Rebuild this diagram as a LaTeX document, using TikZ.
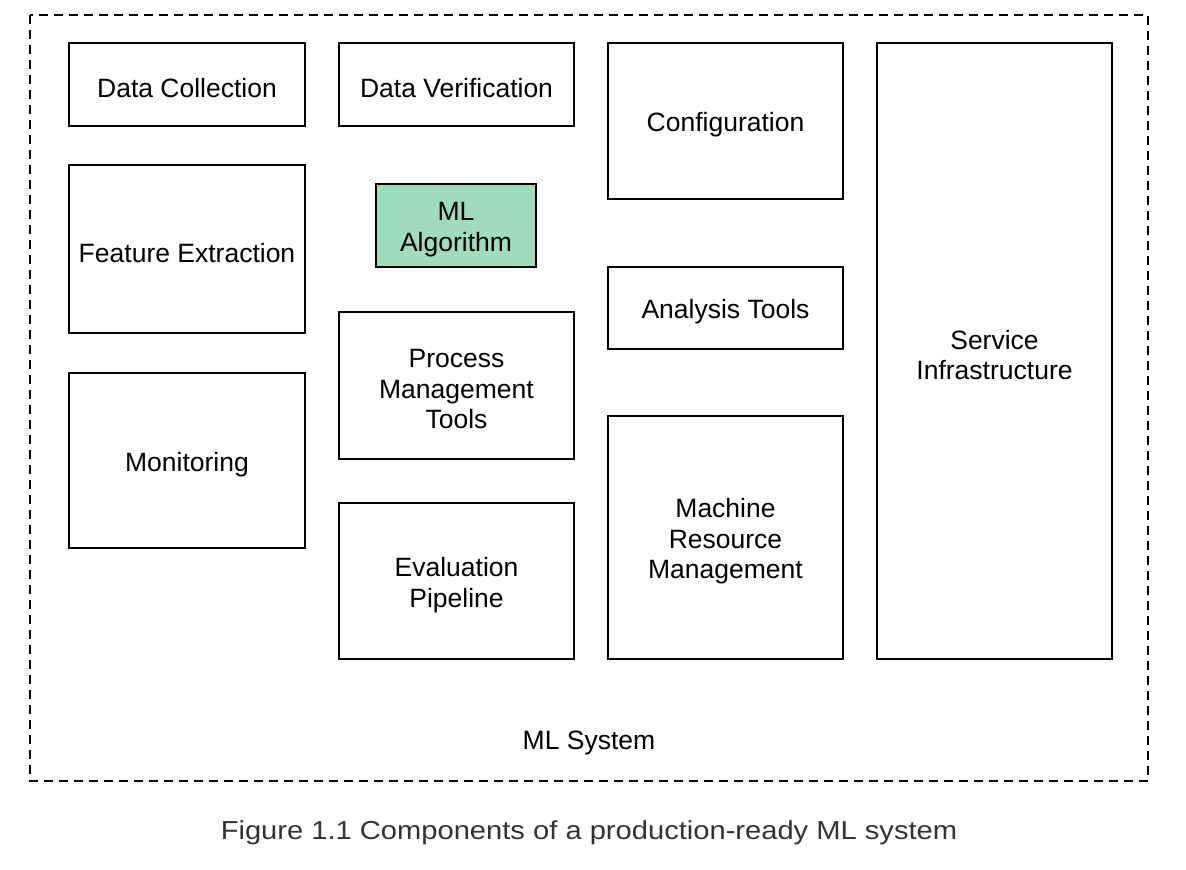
\documentclass[tikz,border=0pt]{standalone}
\usepackage{fontspec}
\usepackage{graphicx}
\setmainfont{Liberation Sans}
\definecolor{mlgreen}{HTML}{A0DDBC}
\definecolor{captiongray}{HTML}{333333}
\begin{document}
\begin{tikzpicture}[x=1pt,y=-1pt,
  comp/.style={draw=black,line width=1.4pt,inner sep=0pt},
  lbl/.style={align=center,font=\fontsize{26.5}{30.5}\selectfont,yshift=-4pt},
  frame/.style={draw=black,line width=1.4pt,dash pattern=on 9pt off 6pt}]
\useasboundingbox (0,0) rectangle (1186,870);
\draw[frame] (30,15) rectangle (1148,781);
\node[comp,minimum width=236pt,minimum height=83pt,label={[lbl]center:Data Collection}] (dc) at (187,84.5) {};
\node[comp,minimum width=235pt,minimum height=83pt,label={[lbl]center:Data Verification}] (dv) at (456.5,84.5) {};
\node[comp,minimum width=235pt,minimum height=156pt,label={[lbl]center:Configuration}] (cf) at (725.5,121) {};
\node[comp,minimum width=235pt,minimum height=616pt,label={[lbl]center:Service\\Infrastructure}] (si) at (994.5,351) {};
\node[comp,minimum width=236pt,minimum height=168pt,label={[lbl]center:Feature Extraction}] (fe) at (187,249) {};
\node[comp,fill=mlgreen,minimum width=160pt,minimum height=83pt,label={[lbl]center:ML\\Algorithm}] (ml) at (456,225.5) {};
\node[comp,minimum width=235pt,minimum height=82pt,label={[lbl]center:Analysis Tools}] (at) at (725.5,308) {};
\node[comp,minimum width=235pt,minimum height=147pt,label={[lbl]center:Process\\Management\\Tools}] (pm) at (456.5,385.5) {};
\node[comp,minimum width=236pt,minimum height=175pt,label={[lbl]center:Monitoring}] (mo) at (187,460.5) {};
\node[comp,minimum width=235pt,minimum height=243pt,label={[lbl]center:Machine\\Resource\\Management}] (mr) at (725.5,537.5) {};
\node[comp,minimum width=235pt,minimum height=156pt,label={[lbl]center:Evaluation\\Pipeline}] (ep) at (456.5,581) {};
\node[font=\fontsize{26.5}{30}\selectfont] (sys) at (589,743) {ML System};
\node[font=\fontsize{26}{30}\selectfont,text=captiongray] (cap) at (589,833) {\scalebox{1.12}[1]{Figure 1.1 Components of a production-ready ML system}};
\end{tikzpicture}
\end{document}
